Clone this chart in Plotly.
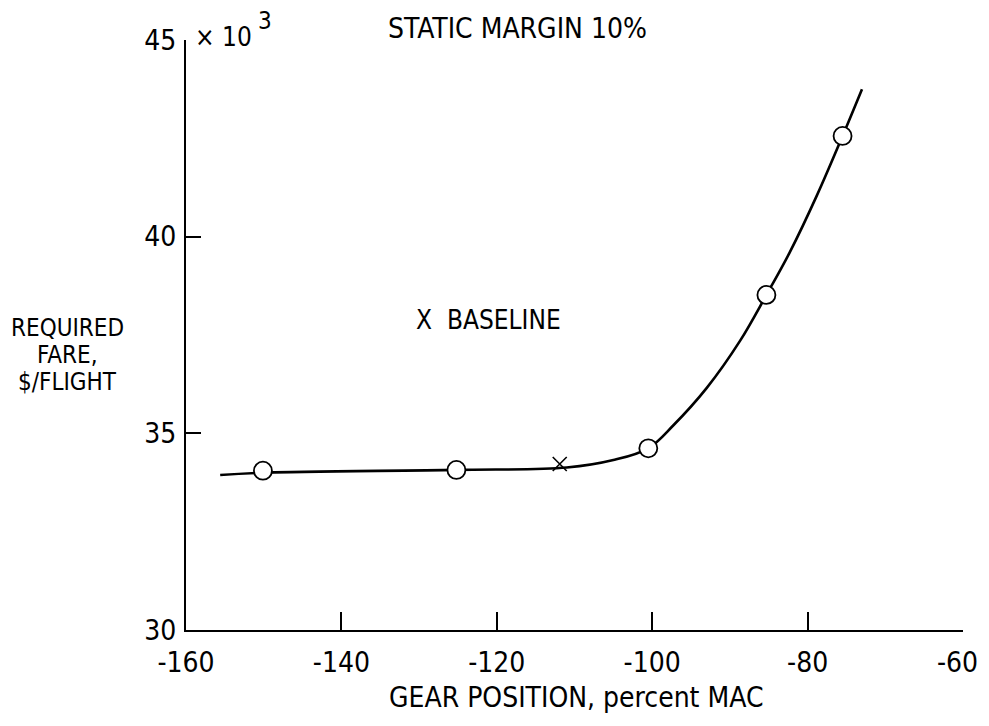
import plotly.graph_objects as go

# Data
point_x = [-150.1, -125.2, -100.5, -85.3, -75.5]
point_y = [34.05, 34.07, 34.62, 38.52, 42.56]

baseline_x = [-111.9]
baseline_y = [34.22]

curve_x = [-155.6, -150.1, -125.2, -111.0, -105.0, -100.5, -97.3, -93.0, -88.7, -85.3, -82.3, -78.8, -75.5, -73.0]
curve_y = [33.94, 34.00, 34.07, 34.13, 34.32, 34.62, 35.20, 36.15, 37.35, 38.52, 39.60, 41.05, 42.56, 43.75]

x_ticks = [-160, -140, -120, -100, -80, -60]
y_ticks = [30, 35, 40, 45]

y_title_lines = ["REQUIRED", "FARE,", "$/FLIGHT"]

FONT = "DejaVu Sans Condensed, Liberation Sans Narrow, sans-serif"

OFF = 8  # page body margin
W, H = 989 - 2 * OFF, 726 - 2 * OFF
L, R, T, B = 186, 963, 40, 630  # plot area in window pixels

def px(x):
    return (x - L) / (R - L)

def py(y):
    return (B - y) / (B - T)

fig = go.Figure()
fig.add_trace(go.Scatter(x=curve_x, y=curve_y, mode="lines",
                         line=dict(color="black", width=2.6, shape="spline", smoothing=1.0),
                         hoverinfo="skip", showlegend=False))
fig.add_trace(go.Scatter(x=point_x, y=point_y, mode="markers",
                         marker=dict(symbol="circle", size=18, color="white",
                                     line=dict(color="black", width=1.8)),
                         showlegend=False))
fig.add_trace(go.Scatter(x=baseline_x, y=baseline_y, mode="markers",
                         marker=dict(symbol="x-thin-open", size=14, color="black",
                                     line=dict(color="black", width=1.6)),
                         showlegend=False))

# the last x tick label sits at the page edge; drawn as text kept inside the figure
last_label = str(x_ticks[-1])
x_ticktext = [str(v) for v in x_ticks[:-1]] + [""]

annotations = [
    dict(text="× 10", x=px(254), y=py(37), xanchor="right", yanchor="middle",
         font=dict(size=26)),
    dict(text="3", x=px(256), y=py(21), xanchor="left", yanchor="middle",
         font=dict(size=24)),
    dict(text="STATIC MARGIN 10%", x=px(517), y=py(28), xanchor="center", yanchor="middle",
         font=dict(size=28)),
    dict(text="X  BASELINE", x=px(414), y=py(320), xanchor="left", yanchor="middle",
         font=dict(size=26)),
    dict(text="GEAR POSITION, percent MAC", x=px(576), y=py(697), xanchor="center",
         yanchor="middle", font=dict(size=28)),
    dict(text=last_label, x=px(980), y=py(662), xanchor="right", yanchor="middle",
         font=dict(size=28)),
]
for line, yy in zip(y_title_lines, [328, 355, 382]):
    annotations.append(dict(text=line, x=px(67), y=py(yy), xanchor="center",
                            yanchor="middle", font=dict(size=24)))
for a in annotations:
    a.update(xref="paper", yref="paper", showarrow=False)
    a["font"].update(family=FONT, color="black")

fig.update_layout(
    width=W, height=H,
    margin=dict(l=L - OFF, r=W - (R - OFF), t=T - OFF, b=H - (B - OFF)),
    paper_bgcolor="white", plot_bgcolor="white",
    font=dict(family=FONT, color="black", size=28),
    annotations=annotations,
    showlegend=False,
)
fig.update_xaxes(range=[-160, -60], tickvals=x_ticks, ticktext=x_ticktext,
                 showgrid=False, zeroline=False, showline=True, linecolor="black", linewidth=2,
                 ticks="inside", ticklen=18, tickwidth=1.5, tickcolor="black",
                 ticklabelstandoff=6, tickfont=dict(size=28, family=FONT, color="black"))
fig.update_yaxes(range=[30, 45], tickvals=y_ticks, ticktext=[str(v) for v in y_ticks],
                 showgrid=False, zeroline=False, showline=True, linecolor="black", linewidth=2,
                 ticks="inside", ticklen=15, tickwidth=1.5, tickcolor="black",
                 ticklabelstandoff=2, tickfont=dict(size=28, family=FONT, color="black"))

fig.write_html("out.html")
